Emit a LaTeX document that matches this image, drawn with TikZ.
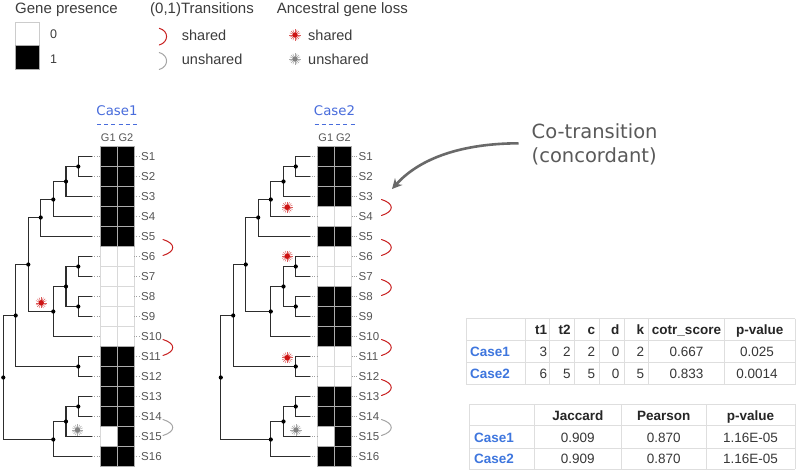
\documentclass[tikz,border=0pt]{standalone}
\usepackage{fontspec}
\setmainfont{Liberation Sans}
\newfontfamily\dejavu{DejaVu Sans}
\usetikzlibrary{arrows.meta}
\definecolor{treec}{RGB}{45,45,45}
\definecolor{labc}{RGB}{85,85,85}
\definecolor{legc}{RGB}{60,60,60}
\definecolor{caseblue}{RGB}{72,108,220}
\definecolor{tblue}{RGB}{62,118,222}
\definecolor{transred}{RGB}{200,32,32}
\definecolor{transgrey}{RGB}{165,165,165}
\definecolor{starred}{RGB}{205,20,20}
\definecolor{stargrey}{RGB}{130,130,130}
\definecolor{callc}{RGB}{90,90,90}
\definecolor{arrowc}{RGB}{105,105,105}
\definecolor{tline}{RGB}{222,222,222}
\definecolor{tdata}{RGB}{55,55,55}
\tikzset{
  branch/.style={draw=treec, line width=1.1pt},
  leader/.style={draw=gray!75, line width=0.6pt, dash pattern=on 0.8pt off 1.6pt},
  slabel/.style={anchor=west, text=labc, font=\fontsize{11.5}{12}\selectfont, inner sep=0pt, text height=8.2pt, text depth=0pt},
  glabel/.style={text=labc, font=\fontsize{11}{12}\selectfont, inner sep=0pt},
  cellw/.style={draw=gray!30, fill=white, line width=0.6pt},
  cellb/.style={draw=gray!65, fill=black, line width=0.6pt},
  transcurve/.style={line width=1pt, line cap=round},
  legtitle/.style={anchor=west, text=legc, font=\fontsize{15}{16}\selectfont, inner sep=0pt, text height=10.8pt, text depth=0pt},
  legitem/.style={anchor=west, text=legc, font=\fontsize{14.5}{16}\selectfont, inner sep=0pt, text height=10.4pt, text depth=0pt},
  legnum/.style={anchor=west, text=legc, font=\fontsize{12.5}{14}\selectfont, inner sep=0pt, text height=9pt, text depth=0pt},
  tcell/.style={text=tdata, font=\fontsize{13.5}{15}\selectfont, inner sep=0pt, text height=9.7pt, text depth=0pt},
  thead/.style={tcell, text=black!85, font=\bfseries\fontsize{13.5}{15}\selectfont},
  tcase/.style={tcell, anchor=west, text=tblue, font=\bfseries\fontsize{13.5}{15}\selectfont},
  tgrid/.style={draw=tline, line width=0.8pt},
}
\newcommand\lossstar[2]{%
  \foreach \a in {0,22.5,...,337.5} {\draw[#2!70, line width=0.45pt] (#1) ++(\a:1pt) -- ++(\a:4.6pt);}
  \fill[#2] (#1) circle (2.7pt);}
\newcommand\transmark[2]{% #1 row, #2 colour
  \draw[transcurve, #2] (163,{139.5+20*#1}) .. controls (176,{143.5+20*#1}) and (176,{151.5+20*#1}) .. (163,{155.5+20*#1});}
\newcommand\drawtree[5]{% #1 prefix, #2 shift, #3 title, #4 black G1 rows, #5 black G2 rows
\begin{scope}[xshift=#2]
  \node[font=\dejavu\fontsize{13.3}{14}\selectfont, text=caseblue, inner sep=0pt] (#1title) at (117,111) {#3};
  \draw[caseblue, line width=1pt, dash pattern=on 4pt off 3.2pt] (97,124) -- (137,124);
  \node[glabel] (#1g1) at (108.3,137.5) {G1};
  \node[glabel] (#1g2) at (126,137.5) {G2};
  \foreach \i in {1,...,16} {
    \draw[cellw] (100,{126.5+20*\i}) rectangle (117,{146.5+20*\i});
    \draw[cellw] (117,{126.5+20*\i}) rectangle (134,{146.5+20*\i});
  }
  \foreach \i in {#4} {\draw[cellb] (100,{126.5+20*\i}) rectangle (117,{146.5+20*\i});}
  \foreach \i in {#5} {\draw[cellb] (117,{126.5+20*\i}) rectangle (134,{146.5+20*\i});}
  \foreach \i in {1,...,16} {
    \coordinate (#1t\i) at (92,{136.5+20*\i});
    \coordinate (#1c\i) at (100,{136.5+20*\i});
    \coordinate (#1r\i) at (134,{136.5+20*\i});
    \node[slabel] (#1s\i) at (141,{136.5+20*\i}) {S\i};
    \draw[leader] (#1t\i) -- (#1c\i);
    \draw[leader] (#1r\i) -- (#1s\i.west);
  }
  \coordinate (#1n12) at (78.3,166.5);
  \coordinate (#1n123) at (66,181.5);
  \coordinate (#1n1234) at (53.3,199.5);
  \coordinate (#1n12345) at (40.7,217.5);
  \coordinate (#1nA) at (28.3,264.5);
  \coordinate (#1n67) at (78.3,266.5);
  \coordinate (#1n89) at (78.3,306.5);
  \coordinate (#1n69) at (66,286.5);
  \coordinate (#1n610) at (53.3,311.5);
  \coordinate (#1n1112) at (78.3,366.5);
  \coordinate (#1nB) at (15.7,315.5);
  \coordinate (#1n1314) at (78.3,406.5);
  \coordinate (#1n1315) at (66,421.5);
  \coordinate (#1n1316) at (53.3,439.5);
  \coordinate (#1root) at (3.3,377.5);
  \draw[branch] (#1n12) |- (#1t1) (#1n12) |- (#1t2)
    (#1n123) |- (#1n12) (#1n123) |- (#1t3)
    (#1n1234) |- (#1n123) (#1n1234) |- (#1t4)
    (#1n12345) |- (#1n1234) (#1n12345) |- (#1t5)
    (#1nA) |- (#1n12345) (#1nA) |- (#1n610)
    (#1n67) |- (#1t6) (#1n67) |- (#1t7)
    (#1n89) |- (#1t8) (#1n89) |- (#1t9)
    (#1n69) |- (#1n67) (#1n69) |- (#1n89)
    (#1n610) |- (#1n69) (#1n610) |- (#1t10)
    (#1n1112) |- (#1t11) (#1n1112) |- (#1t12)
    (#1nB) |- (#1nA) (#1nB) |- (#1n1112)
    (#1n1314) |- (#1t13) (#1n1314) |- (#1t14)
    (#1n1315) |- (#1n1314) (#1n1315) |- (#1t15)
    (#1n1316) |- (#1n1315) (#1n1316) |- (#1t16)
    (#1root) |- (#1nB) (#1root) |- (#1n1316);
  \foreach \n in {n12,n123,n1234,n12345,nA,n67,n89,n69,n610,n1112,nB,n1314,n1315,n1316,root}
    {\fill[black] (#1\n) circle (2.1pt);}
\end{scope}}
\begin{document}
\begin{tikzpicture}[x=1pt,y=-1pt]
\useasboundingbox (0,0) rectangle (800,471);
\fill[white] (0,0) rectangle (800,471);
% ---------- legend ----------
\node[legtitle] (lgp) at (15,8.5) {Gene presence};
\draw[cellw, draw=gray!40] (15.5,22.3) rectangle (39.3,45.5);
\draw[cellb] (15.5,45.5) rectangle (39.3,69.3);
\node[legnum] (l0) at (50,34) {0};
\node[legnum] (l1) at (50,58.5) {1};
\node[legtitle] (ltr) at (150,8.5) {(0,1)Transitions};
\draw[transcurve, transred] (159.3,28.3) .. controls (169,31) and (169,42) .. (159.3,45);
\draw[transcurve, transgrey] (159.3,52.5) .. controls (169,55.5) and (169,66.5) .. (159.3,69.5);
\node[legitem] (lts) at (181.7,35) {shared};
\node[legitem] (ltu) at (181.7,59) {unshared};
\node[legtitle] (lal) at (276.7,8.5) {Ancestral gene loss};
\coordinate (lstar1) at (295,35);
\coordinate (lstar2) at (295,59);
\lossstar{lstar1}{starred}
\lossstar{lstar2}{stargrey}
\node[legitem] (las) at (308,35) {shared};
\node[legitem] (lau) at (308,59) {unshared};
% ---------- trees ----------
\drawtree{a}{0pt}{Case1}{1,2,3,4,5,11,12,13,14,16}{1,2,3,4,5,11,12,13,14,15,16}
\drawtree{b}{217.5pt}{Case2}{1,2,3,5,8,9,10,13,14,16}{1,2,3,5,8,9,10,13,14,15,16}
% stars
\coordinate (astar1) at (41.2,302.8);
\coordinate (astar2) at (77.5,430);
\lossstar{astar1}{starred}
\lossstar{astar2}{stargrey}
\coordinate (bstar1) at (287.3,207.3);
\coordinate (bstar2) at (287.3,256.2);
\coordinate (bstar3) at (287.3,357.7);
\coordinate (bstar4) at (296,430);
\lossstar{bstar1}{starred}
\lossstar{bstar2}{starred}
\lossstar{bstar3}{starred}
\lossstar{bstar4}{stargrey}
% transitions
\transmark{5}{transred}
\transmark{10}{transred}
\transmark{14}{transgrey}
\begin{scope}[xshift=218.5pt]
\transmark{3}{transred}
\transmark{5}{transred}
\transmark{7}{transred}
\transmark{10}{transred}
\transmark{12}{transred}
\transmark{14}{transgrey}
\end{scope}
% ---------- callout ----------
\node[anchor=west, align=left, text=callc, font=\dejavu\fontsize{19.5}{24}\selectfont, inner sep=0pt] (callout) at (531.5,144.7) {Co-transition\\(concordant)};
\coordinate (arrowstart) at (518.5,143.3);
\coordinate (arrowtip) at (392,189);
\draw[arrowc, line width=2.6pt, -{Stealth[length=10pt,width=10pt]}] (arrowstart) .. controls (462,143.5) and (420,158) .. (arrowtip);
% ---------- table 1 ----------
\foreach \yy in {318.7,340.3,362.7,384.7} {\draw[tgrid] (466,\yy) -- (795,\yy);}
\foreach \xx in {466,525.7,549.3,574.3,599.3,624.3,648.3,724.3,795} {\draw[tgrid] (\xx,318.7) -- (\xx,384.7);}
\node[thead, anchor=east] (h1) at (547.3,330) {t1};
\node[thead, anchor=east] (h2) at (570.8,330) {t2};
\node[thead, anchor=east] (h3) at (595.2,330) {c};
\node[thead, anchor=east] (h4) at (619.5,330) {d};
\node[thead, anchor=east] (h5) at (644.3,330) {k};
\node[thead] (h6) at (686.5,330) {cotr\_score};
\node[thead] (h7) at (759.7,330) {p-value};
\node[tcase] (r1) at (470,352) {Case1};
\node[tcase] (r2) at (470,374) {Case2};
\foreach \v/\xx [count=\k] in {3/547.3,2/570.8,2/595.2,0/619.5,2/644.3} {\node[tcell, anchor=east] (pa\k) at (\xx,352) {\v};}
\foreach \v/\xx [count=\k] in {6/547.3,5/570.8,5/595.2,0/619.5,5/644.3} {\node[tcell, anchor=east] (pb\k) at (\xx,374) {\v};}
\node[tcell] (pa6) at (686.5,352) {0.667};
\node[tcell] (pa7) at (757,352) {0.025};
\node[tcell] (pb6) at (686.5,374) {0.833};
\node[tcell] (pb7) at (757,374) {0.0014};
% ---------- table 2 ----------
\foreach \yy in {404.3,425.7,448.3,469.3} {\draw[tgrid] (469.3,\yy) -- (795,\yy);}
\foreach \xx in {469.3,534,621.7,706,795} {\draw[tgrid] (\xx,404.3) -- (\xx,469.3);}
\node[thead] (j1) at (577.8,415.5) {Jaccard};
\node[thead] (j2) at (663.8,415.5) {Pearson};
\node[thead] (j3) at (750.5,415.5) {p-value};
\node[tcase] (q1) at (474,437.5) {Case1};
\node[tcase] (q2) at (474,459) {Case2};
\node[tcell] (qa1) at (577.8,437.5) {0.909};
\node[tcell] (qa2) at (663.8,437.5) {0.870};
\node[tcell] (qa3) at (750.5,437.5) {1.16E-05};
\node[tcell] (qb1) at (577.8,459) {0.909};
\node[tcell] (qb2) at (663.8,459) {0.870};
\node[tcell] (qb3) at (750.5,459) {1.16E-05};
\end{tikzpicture}
\end{document}
